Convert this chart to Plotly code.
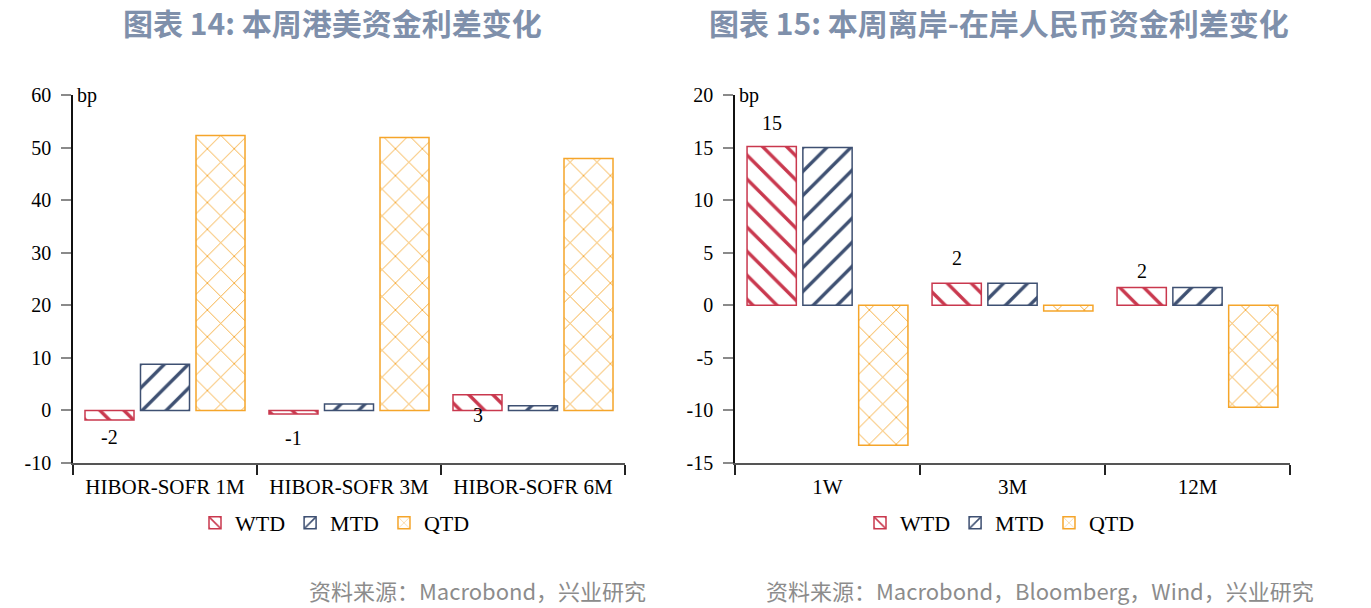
import plotly.graph_objects as go

# ---------------- data ----------------
left_categories = ["HIBOR-SOFR 1M", "HIBOR-SOFR 3M", "HIBOR-SOFR 6M"]
left_wtd = [-1.8, -0.7, 3.0]
left_mtd = [8.8, 1.2, 0.9]
left_qtd = [52.3, 51.9, 47.9]
left_labels = ["-2", "-1", "3"]
left_ytickvals = [-10, 0, 10, 20, 30, 40, 50, 60]
left_yticktext = ["-10", "0", "10", "20", "30", "40", "50", "60"]

right_categories = ["1W", "3M", "12M"]
right_wtd = [15.1, 2.1, 1.7]
right_mtd = [15.0, 2.1, 1.7]
right_qtd = [-13.3, -0.55, -9.7]
right_labels = ["15", "2", "2"]
right_ytickvals = [-15, -10, -5, 0, 5, 10, 15, 20]
right_yticktext = ["-15", "-10", "-5", "0", "5", "10", "15", "20"]

series_names = ["WTD", "MTD", "QTD"]

left_title = "图表\u00a014:\u00a0本周港美资金利差变化"
right_title = "图表\u00a015:\u00a0本周离岸-在岸人民币资金利差变化"
left_source = "资料来源：Macrobond，兴业研究"
right_source = "资料来源：Macrobond，Bloomberg，Wind，兴业研究"

# ---------------- style ----------------
W, H = 1371, 608
colors = ["#C9384E", "#3E5072", "#F5A52A"]
shapes = ["\\", "/", "x"]
psize = [17, 17, 19]
psolid = [0.2, 0.2, 0.09]
serif = "Liberation Serif, Times New Roman, serif"
cjk = "Noto Sans CJK SC, Noto Sans, sans-serif"

fig = go.Figure()

def add_bars(cats, vals_list, xa, ya, legend):
    for name, vals, c, sh, sz, so in zip(series_names, vals_list, colors, shapes, psize, psolid):
        fig.add_trace(go.Bar(
            x=cats, y=vals, name=name, xaxis=xa, yaxis=ya, legend=legend,
            marker=dict(color="white",
                        line=dict(color=c, width=1.5),
                        pattern=dict(shape=sh, fgcolor=c, bgcolor="white", fgopacity=1,
                                     size=sz, solidity=so, fillmode="overlay")),
            hoverinfo="x+y+name",
        ))

add_bars(left_categories, [left_wtd, left_mtd, left_qtd], "x", "y", "legend")
add_bars(right_categories, [right_wtd, right_mtd, right_qtd], "x2", "y2", "legend2")

y0, y1 = (H - 463) / H, (H - 95) / H
axis_common = dict(showgrid=False, zeroline=False)

xcommon = dict(
    **axis_common, type="category", showline=True, linecolor="#555555", linewidth=2,
    ticks="outside", tickson="boundaries", ticklen=10, tickwidth=2, tickcolor="#222222",
    tickfont=dict(family=serif, size=21, color="black"), range=[-0.5, 2.5],
    ticklabelstandoff=4,
)
ycommon = dict(
    **axis_common, showline=True, linecolor="#111111", linewidth=1.5,
    ticks="outside", ticklen=10, tickwidth=2, tickcolor="#8a8a8a",
    tickfont=dict(family=serif, size=20, color="black"), ticklabelstandoff=6,
    tickmode="array",
)

legend_common = dict(orientation="h", xanchor="center", y=1 - 523 / H, yanchor="middle",
                     font=dict(family=serif, size=22, color="black"), itemwidth=30,
                     traceorder="normal", bgcolor="rgba(0,0,0,0)")

fig.update_layout(
    width=W, height=H,
    margin=dict(l=0, r=0, t=0, b=0, autoexpand=False),
    paper_bgcolor="white", plot_bgcolor="white",
    barmode="group", bargap=0.095, bargroupgap=0.117,
    xaxis=dict(**xcommon, domain=[73 / W, 625 / W], anchor="y"),
    yaxis=dict(**ycommon, domain=[y0, y1], range=[-10, 60],
               tickvals=left_ytickvals, ticktext=left_yticktext, anchor="x"),
    xaxis2=dict(**xcommon, domain=[735 / W, 1290 / W], anchor="y2"),
    yaxis2=dict(**ycommon, domain=[y0, y1], range=[-15, 20],
                tickvals=right_ytickvals, ticktext=right_yticktext, anchor="x2"),
    legend=dict(**legend_common, x=335 / W),
    legend2=dict(**legend_common, x=1000 / W),
    showlegend=True,
)

anns = []
# titles
for txt, cx in [(left_title, 332), (right_title, 999)]:
    anns.append(dict(text="<b>" + txt + "</b>", x=cx / W, y=1 - 22 / H, xref="paper", yref="paper",
                     xanchor="center", yanchor="middle", showarrow=False,
                     font=dict(family=cjk, size=30, color="#7F90AB")))
# sources
for txt, rx in [(left_source, 648), (right_source, 1316)]:
    anns.append(dict(text=txt, x=rx / W, y=1 - 590 / H, xref="paper", yref="paper",
                     xanchor="right", yanchor="middle", showarrow=False,
                     font=dict(family=cjk, size=22, color="#8C8C8C")))
# bp units
for xr, yr, top in [("x domain", "y", 60), ("x2 domain", "y2", 20)]:
    anns.append(dict(text="bp", x=0, y=top, xref=xr, yref=yr, xanchor="left", yanchor="middle",
                     xshift=2, showarrow=False, font=dict(family=serif, size=20, color="black")))
# value labels on WTD bars
left_shift = [-17, -24, -20]
right_shift = [24, 25, 16]
for cats, vals, labs, shifts, xr, yr in [
    (left_categories, left_wtd, left_labels, left_shift, "x", "y"),
    (right_categories, right_wtd, right_labels, right_shift, "x2", "y2"),
]:
    for c, v, lab, s in zip(cats, vals, labs, shifts):
        anns.append(dict(text=lab, x=c, y=v, xref=xr, yref=yr, xshift=-55.5, yshift=s,
                         xanchor="center", yanchor="middle", showarrow=False,
                         font=dict(family=serif, size=20, color="black")))

fig.update_layout(annotations=anns)
fig.write_html("out.html")
